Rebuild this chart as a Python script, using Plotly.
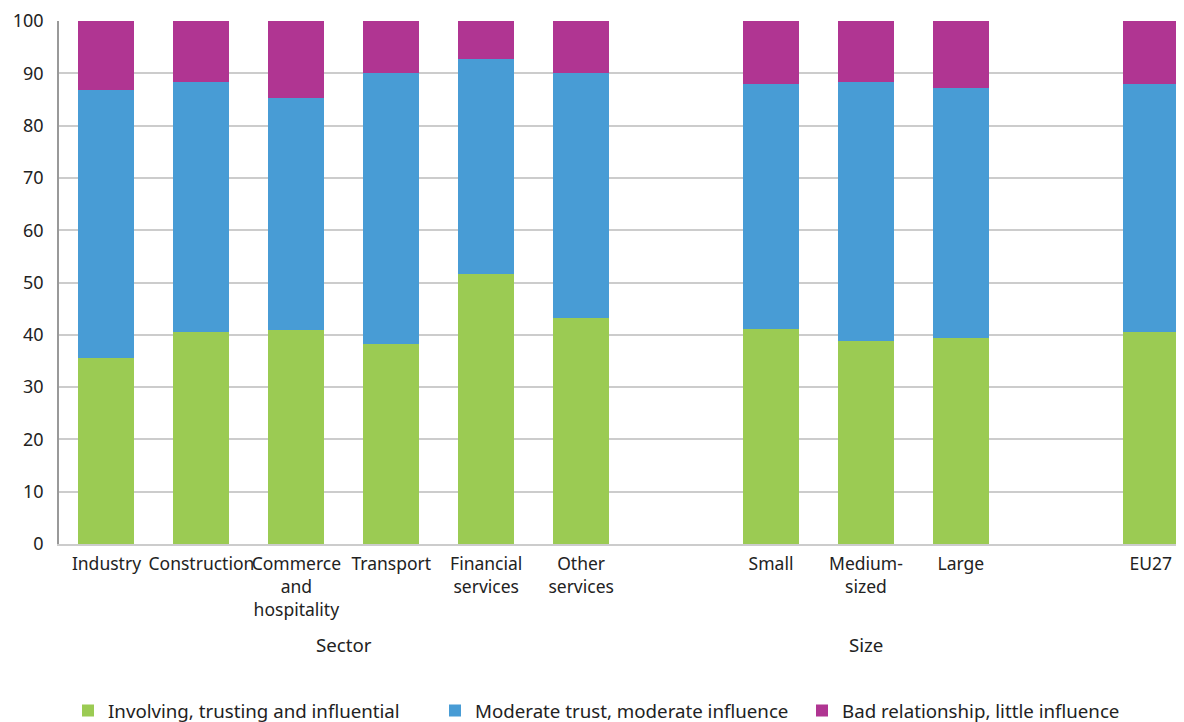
import plotly.graph_objects as go

categories = ["Industry", "Construction", "Commerce<br>and<br>hospitality", "Transport",
              "Financial<br>services", "Other<br>services", "Small", "Medium-<br>sized", "Large", "EU27"]
positions = [0, 1, 2, 3, 4, 5, 7, 8, 9, 11]
groups = ["Sector", "Size"]
group_centers = [2.5, 8]

involving = [35.5, 40.5, 40.9, 38.2, 51.6, 43.2, 41.2, 38.9, 39.3, 40.5]
moderate = [51.4, 47.9, 44.4, 51.8, 41.1, 46.8, 46.8, 49.5, 47.9, 47.5]
bad = [13.1, 11.6, 14.7, 10.0, 7.3, 10.0, 12.0, 11.6, 12.8, 12.0]

series = [
    ("Involving, trusting and influential", involving, "#9BCB53"),
    ("Moderate trust, moderate influence", moderate, "#489CD5"),
    ("Bad relationship, little influence", bad, "#B03592"),
]

FONT = "Noto Sans, sans-serif"
FS = 17.5
FL = 18.7
TXT = "#222222"

fig = go.Figure()
for name, vals, col in series:
    fig.add_trace(go.Bar(x=positions, y=vals, name=name, width=0.59,
                         marker=dict(color=col, line=dict(width=0))))

for g, c in zip(groups, group_centers):
    fig.add_annotation(x=c, xref="x", y=-0.192, yref="paper", text=g, showarrow=False,
                       font=dict(size=FL, color=TXT, family=FONT), yanchor="middle")

# page body has an 8px margin: figure is sized/offset to compensate
fig.update_layout(
    barmode="stack",
    width=1176, height=714,
    margin=dict(l=51, r=0, t=13, b=178, autoexpand=False),
    plot_bgcolor="white", paper_bgcolor="white",
    font=dict(family=FONT, size=FS, color=TXT),
    bargap=0,
    legend=dict(orientation="h", x=0.008, xanchor="left", y=-0.319, yanchor="middle",
                entrywidth=322, entrywidthmode="pixels",
                font=dict(size=FL, color=TXT, family=FONT), traceorder="normal"),
    xaxis=dict(range=[-0.5, 11.35], tickvals=positions, ticktext=categories, tickangle=0,
               showgrid=False, showline=True, linecolor="#cccccc", linewidth=2,
               ticks="", zeroline=False, automargin=False, ticklabelstandoff=3,
               tickfont=dict(size=FS, family=FONT, color=TXT)),
    yaxis=dict(range=[0, 100], dtick=10, showgrid=True, gridcolor="#cccccc", gridwidth=2,
               showline=True, linecolor="#999999", linewidth=1.5, ticks="", automargin=False,
               zeroline=False, ticklabelstandoff=10, tickfont=dict(size=18, family=FONT, color=TXT)),
)

fig.write_html("out.html")
